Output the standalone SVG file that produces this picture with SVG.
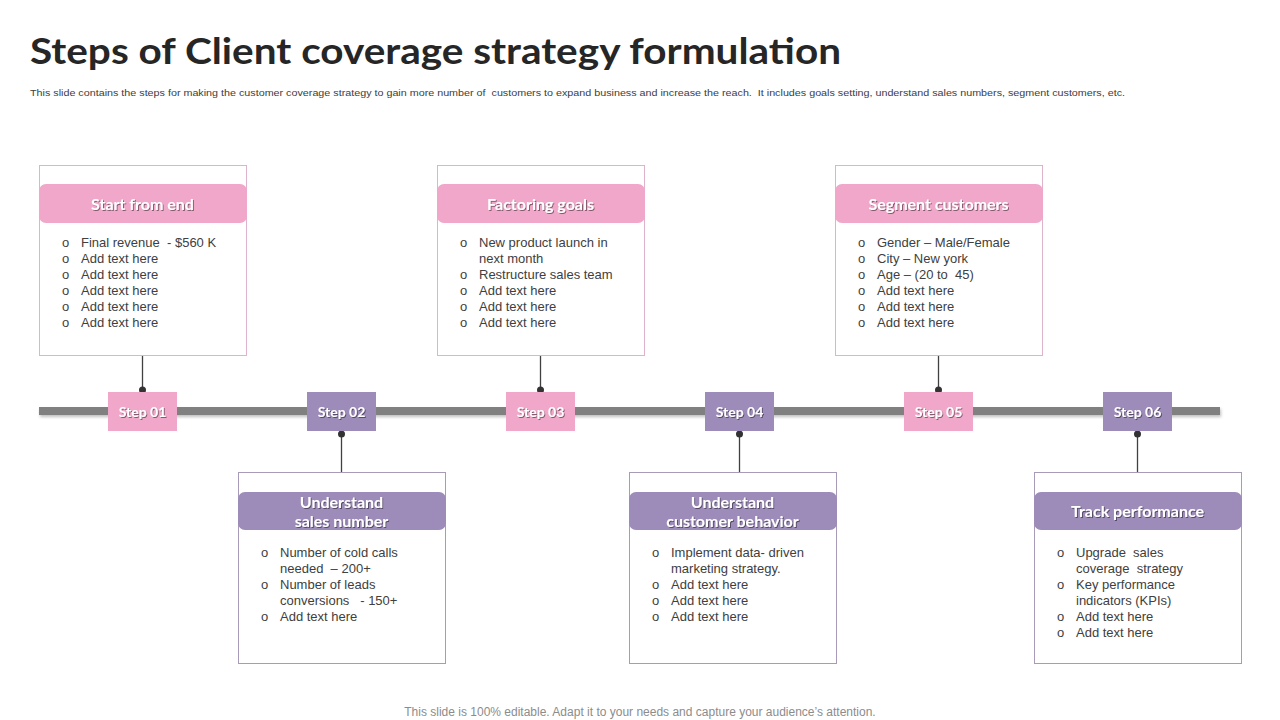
<svg xmlns="http://www.w3.org/2000/svg" width="1280" height="720" viewBox="0 0 1280 720">
<defs>
<filter id="ts" x="-10%" y="-30%" width="120%" height="160%"><feDropShadow dx="1" dy="1" stdDeviation="0.6" flood-color="#000" flood-opacity="0.45"/></filter>
<filter id="bs" x="-2%" y="-50%" width="104%" height="250%"><feDropShadow dx="1" dy="2" stdDeviation="1.5" flood-color="#000" flood-opacity="0.25"/></filter>
</defs>
<style>
text{white-space:pre}
.title{font-family:Lato,"Liberation Sans",sans-serif;font-weight:700;font-size:36px;fill:#262626}
.sub{font-family:"Liberation Sans",Arial,sans-serif;font-size:9.5px;fill:#404040}
.foot{font-family:"Liberation Sans",Arial,sans-serif;font-size:12px;fill:#8c8c8c}
.boxP{fill:#fff;stroke:#dfb3cb;stroke-width:1}
.boxU{fill:#fff;stroke:#a89bb8;stroke-width:1}
.hP{fill:#f0a7ca}
.hU{fill:#9d8bba}
.ht{font-family:Lato,"Open Sans",sans-serif;font-weight:700;font-size:16px;fill:#fff;text-anchor:middle}
.st{font-family:Lato,"Open Sans",sans-serif;font-weight:700;font-size:14px;fill:#fff;text-anchor:middle}
.bl{font-family:"Liberation Sans",Arial,sans-serif;font-size:13px;fill:#404040}
.conn{stroke:#404040;stroke-width:1.3}
.dot{fill:#333}
</style>
<text class="title" x="30" y="64" textLength="811" lengthAdjust="spacingAndGlyphs">Steps of Client coverage strategy formulation</text>
<text class="sub" x="30" y="96" textLength="1095" lengthAdjust="spacingAndGlyphs">This slide contains the steps for making the customer coverage strategy to gain more number of  customers to expand business and increase the reach.  It includes goals setting, understand sales numbers, segment customers, etc.</text>
<rect x="39" y="407" width="1181" height="8" fill="#808080" filter="url(#bs)"/>
<g id="connectors">
<line class="conn" x1="142.5" y1="355" x2="142.5" y2="390"/><circle class="dot" cx="142.5" cy="390" r="3.5"/>
<line class="conn" x1="341.5" y1="434" x2="341.5" y2="472"/><circle class="dot" cx="341.5" cy="434" r="3.5"/>
<line class="conn" x1="540.5" y1="355" x2="540.5" y2="390"/><circle class="dot" cx="540.5" cy="390" r="3.5"/>
<line class="conn" x1="739.5" y1="434" x2="739.5" y2="472"/><circle class="dot" cx="739.5" cy="434" r="3.5"/>
<line class="conn" x1="938.5" y1="355" x2="938.5" y2="390"/><circle class="dot" cx="938.5" cy="390" r="3.5"/>
<line class="conn" x1="1137.5" y1="434" x2="1137.5" y2="472"/><circle class="dot" cx="1137.5" cy="434" r="3.5"/>
</g>
<g id="step01"><rect class="hP" x="108" y="392" width="69" height="39"/><text class="st" x="142.5" y="417" filter="url(#ts)">Step 01</text></g>
<g id="step02"><rect class="hU" x="307" y="392" width="69" height="39"/><text class="st" x="341.5" y="417" filter="url(#ts)">Step 02</text></g>
<g id="step03"><rect class="hP" x="506" y="392" width="69" height="39"/><text class="st" x="540.5" y="417" filter="url(#ts)">Step 03</text></g>
<g id="step04"><rect class="hU" x="705" y="392" width="69" height="39"/><text class="st" x="739.5" y="417" filter="url(#ts)">Step 04</text></g>
<g id="step05"><rect class="hP" x="904" y="392" width="69" height="39"/><text class="st" x="938.5" y="417" filter="url(#ts)">Step 05</text></g>
<g id="step06"><rect class="hU" x="1103" y="392" width="69" height="39"/><text class="st" x="1137.5" y="417" filter="url(#ts)">Step 06</text></g>
<g id="box1">
<rect class="boxP" x="39.5" y="165.5" width="207" height="190"/>
<rect class="hP" x="39" y="184" width="208" height="39" rx="7"/>
<text class="ht" x="142.5" y="210" filter="url(#ts)">Start from end</text>
<g class="bl">
<text x="62" y="247">o</text><text x="81" y="247">Final revenue  - $560 K</text>
<text x="62" y="263">o</text><text x="81" y="263">Add text here</text>
<text x="62" y="279">o</text><text x="81" y="279">Add text here</text>
<text x="62" y="295">o</text><text x="81" y="295">Add text here</text>
<text x="62" y="311">o</text><text x="81" y="311">Add text here</text>
<text x="62" y="327">o</text><text x="81" y="327">Add text here</text>
</g>
</g>
<g id="box3">
<rect class="boxP" x="437.5" y="165.5" width="207" height="190"/>
<rect class="hP" x="437" y="184" width="208" height="39" rx="7"/>
<text class="ht" x="540.5" y="210" filter="url(#ts)">Factoring goals</text>
<g class="bl">
<text x="460" y="247">o</text><text x="479" y="247">New product launch in</text>
<text x="479" y="263">next month</text>
<text x="460" y="279">o</text><text x="479" y="279">Restructure sales team</text>
<text x="460" y="295">o</text><text x="479" y="295">Add text here</text>
<text x="460" y="311">o</text><text x="479" y="311">Add text here</text>
<text x="460" y="327">o</text><text x="479" y="327">Add text here</text>
</g>
</g>
<g id="box5">
<rect class="boxP" x="835.5" y="165.5" width="207" height="190"/>
<rect class="hP" x="835" y="184" width="208" height="39" rx="7"/>
<text class="ht" x="938.5" y="210" filter="url(#ts)">Segment customers</text>
<g class="bl">
<text x="858" y="247">o</text><text x="877" y="247">Gender – Male/Female</text>
<text x="858" y="263">o</text><text x="877" y="263">City – New york</text>
<text x="858" y="279">o</text><text x="877" y="279">Age – (20 to  45)</text>
<text x="858" y="295">o</text><text x="877" y="295">Add text here</text>
<text x="858" y="311">o</text><text x="877" y="311">Add text here</text>
<text x="858" y="327">o</text><text x="877" y="327">Add text here</text>
</g>
</g>
<g id="box2">
<rect class="boxU" x="238.5" y="472.5" width="207" height="191"/>
<rect class="hU" x="238" y="492" width="208" height="38" rx="7"/>
<text class="ht" x="341.5" y="508" filter="url(#ts)">Understand</text>
<text class="ht" x="341.5" y="527" filter="url(#ts)">sales number</text>
<g class="bl">
<text x="261" y="557">o</text><text x="280" y="557">Number of cold calls</text>
<text x="280" y="573">needed  – 200+</text>
<text x="261" y="589">o</text><text x="280" y="589">Number of leads</text>
<text x="280" y="605">conversions   - 150+</text>
<text x="261" y="621">o</text><text x="280" y="621">Add text here</text>
</g>
</g>
<g id="box4">
<rect class="boxU" x="629.5" y="472.5" width="207" height="191"/>
<rect class="hU" x="629" y="492" width="208" height="38" rx="7"/>
<text class="ht" x="732.5" y="508" filter="url(#ts)">Understand</text>
<text class="ht" x="732.5" y="527" filter="url(#ts)">customer behavior</text>
<g class="bl">
<text x="652" y="557">o</text><text x="671" y="557">Implement data- driven</text>
<text x="671" y="573">marketing strategy.</text>
<text x="652" y="589">o</text><text x="671" y="589">Add text here</text>
<text x="652" y="605">o</text><text x="671" y="605">Add text here</text>
<text x="652" y="621">o</text><text x="671" y="621">Add text here</text>
</g>
</g>
<g id="box6">
<rect class="boxU" x="1034.5" y="472.5" width="207" height="191"/>
<rect class="hU" x="1034" y="492" width="208" height="38" rx="7"/>
<text class="ht" x="1137.5" y="517" filter="url(#ts)">Track performance</text>
<g class="bl">
<text x="1057" y="557">o</text><text x="1076" y="557">Upgrade  sales</text>
<text x="1076" y="573">coverage  strategy</text>
<text x="1057" y="589">o</text><text x="1076" y="589">Key performance</text>
<text x="1076" y="605">indicators (KPIs)</text>
<text x="1057" y="621">o</text><text x="1076" y="621">Add text here</text>
<text x="1057" y="637">o</text><text x="1076" y="637">Add text here</text>
</g>
</g>
<text class="foot" x="640" y="716" text-anchor="middle">This slide is 100% editable. Adapt it to your needs and capture your audience’s attention.</text>
</svg>
